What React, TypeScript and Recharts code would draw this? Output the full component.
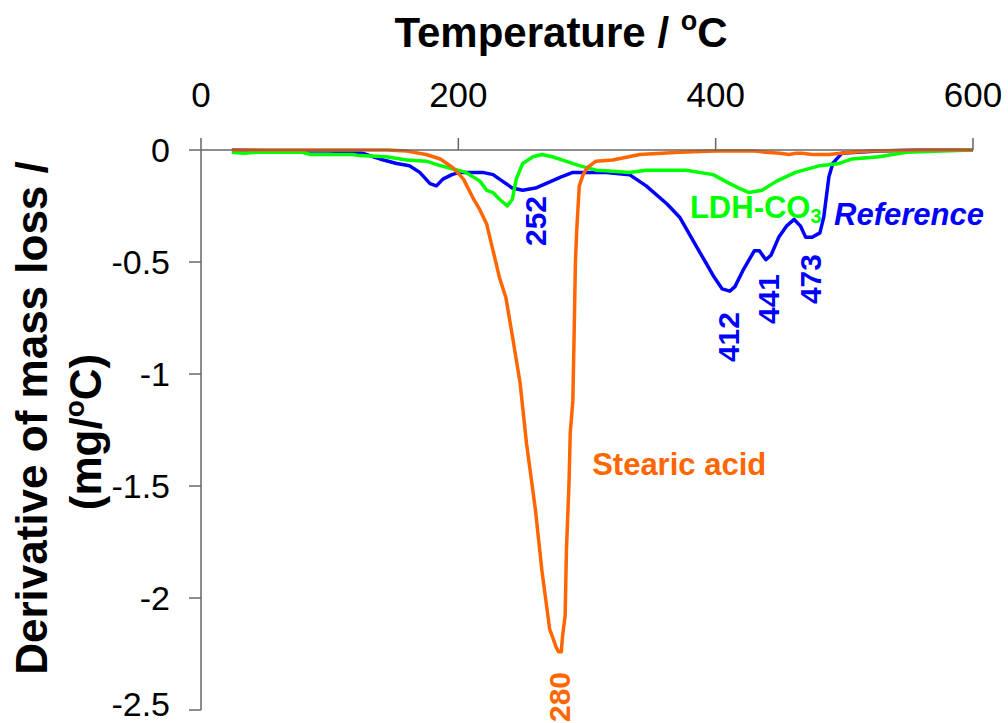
import { LineChart, Line, XAxis, YAxis, ReferenceDot } from "recharts";

// DTG curves, temperature (°C) vs derivative of mass loss (mg/°C)
const tempStearic = [24, 60, 100, 144, 160, 175, 186, 196, 204, 211, 217, 222, 227, 232, 237, 242, 248, 253, 260, 265, 271, 273, 276, 278, 280, 281, 283, 284, 286, 287, 289, 290, 291, 292, 294, 297, 300, 307, 320, 341, 372, 400, 430, 439, 450, 457, 462, 467, 475, 488, 497, 506, 520, 560, 600];
const dtgStearic = [0, 0, 0, 0, -0.005, -0.02, -0.04, -0.08, -0.13, -0.21, -0.27, -0.33, -0.45, -0.57, -0.66, -0.83, -1.04, -1.31, -1.61, -1.88, -2.14, -2.17, -2.22, -2.24, -2.24, -2.17, -2.08, -1.79, -1.49, -1.26, -1.12, -0.82, -0.5, -0.36, -0.16, -0.11, -0.08, -0.05, -0.045, -0.02, -0.01, -0.005, -0.005, -0.01, -0.015, -0.02, -0.015, -0.015, -0.02, -0.02, -0.015, -0.01, -0.005, 0, 0];

const tempReference = [24, 60, 100, 123, 139, 152, 162, 170, 178, 183, 188, 195, 201, 219, 227, 232, 242, 250, 260, 268, 280, 289, 315, 333, 346, 362, 372, 382, 393, 398, 405, 411, 415, 421, 430, 434, 439, 443, 449, 455, 461, 466, 470, 475, 481, 484, 486, 488, 491, 498, 510, 527, 560, 600];
const dtgReference = [0, -0.005, -0.005, -0.01, -0.04, -0.06, -0.07, -0.1, -0.15, -0.16, -0.13, -0.11, -0.1, -0.1, -0.11, -0.13, -0.17, -0.18, -0.17, -0.15, -0.12, -0.1, -0.1, -0.11, -0.16, -0.24, -0.3, -0.4, -0.51, -0.56, -0.62, -0.63, -0.61, -0.54, -0.45, -0.45, -0.49, -0.47, -0.39, -0.34, -0.31, -0.34, -0.39, -0.39, -0.37, -0.3, -0.21, -0.12, -0.06, -0.015, -0.01, -0.005, 0, 0];

const tempLdh = [24, 33, 44, 79, 85, 118, 123, 144, 160, 175, 186, 196, 206, 217, 222, 227, 232, 238, 242, 245, 250, 258, 265, 273, 281, 294, 307, 320, 333, 346, 360, 377, 398, 411, 418, 426, 436, 447, 462, 481, 496, 506, 527, 548, 576, 600];
const dtgLdh = [-0.01, -0.015, -0.01, -0.01, -0.02, -0.02, -0.025, -0.03, -0.045, -0.05, -0.07, -0.085, -0.1, -0.14, -0.18, -0.19, -0.22, -0.25, -0.22, -0.13, -0.06, -0.03, -0.02, -0.03, -0.045, -0.07, -0.09, -0.095, -0.1, -0.09, -0.09, -0.09, -0.11, -0.15, -0.17, -0.19, -0.18, -0.14, -0.1, -0.07, -0.06, -0.04, -0.03, -0.01, -0.005, 0];

const xTicks = [0, 200, 400, 600];
const yTicks = [0, -0.5, -1, -1.5, -2, -2.5];

// peak temperatures written vertically next to the minima
const peakLabels = [
  { text: "252", series: "reference", t: 260, v: -0.317 },
  { text: "412", series: "reference", t: 410, v: -0.835 },
  { text: "441", series: "reference", t: 441, v: -0.665 },
  { text: "473", series: "reference", t: 474, v: -0.576 },
  { text: "280", series: "stearic", t: 279, v: -2.442 },
];

// curve names
const curveNames = [
  { text: "Stearic acid", sub: "", series: "stearic", t: 304, v: -1.451 },
  { text: "LDH-CO", sub: "3", series: "ldh", t: 380, v: -0.304 },
  { text: "Reference", sub: "", series: "reference", t: 492, v: -0.335 },
];

const colors: Record<string, string> = {
  stearic: "#FF6600",
  reference: "#0000FF",
  ldh: "#00FF00",
};

const FONT = "'Liberation Sans', Arial, Helvetica, sans-serif";

const toPoints = (t: number[], v: number[]) => t.map((x, i) => ({ t: x, v: v[i] }));

function XTitle() {
  return (
    <text x={561} y={47} textAnchor="middle" fontFamily={FONT} fontWeight="bold" fontSize={42} fill="#000">
      Temperature /{" "}
      <tspan fontSize={27} dy={-17}>o</tspan>
      <tspan fontSize={42} dy={17}>C</tspan>
    </text>
  );
}

function YTitle() {
  return (
    <g fontFamily={FONT} fontWeight="bold" fontSize={44} fill="#000">
      <text x={47} y={418} transform="rotate(-90 47 418)" textAnchor="middle">
        Derivative of mass loss /
      </text>
      <text x={101} y={432} transform="rotate(-90 101 432)" textAnchor="middle">
        (mg/<tspan fontSize={28} dy={-17}>o</tspan>
        <tspan fontSize={44} dy={17}>C)</tspan>
      </text>
    </g>
  );
}

export default function App() {
  return (
    <div style={{ position: "absolute", left: 0, top: 0, width: 1008, height: 723, background: "#fff" }}>
      <LineChart width={1008} height={723} margin={{ top: 100, right: 35, bottom: 13, left: 0 }}>
        <XAxis
          type="number"
          dataKey="t"
          orientation="top"
          domain={[0, 600]}
          ticks={xTicks}
          height={50}
          stroke="#666"
          strokeWidth={1.5}
          tickSize={12}
          tickMargin={31}
          tick={{ fontSize: 35, fill: "#000", fontFamily: FONT }}
          label={{ content: XTitle }}
          allowDuplicatedCategory={false}
        />
        <YAxis
          type="number"
          dataKey="v"
          domain={[-2.5, 0]}
          ticks={yTicks}
          width={201}
          stroke="#666"
          strokeWidth={1.5}
          tickSize={12}
          tickMargin={19}
          tick={{ fontSize: 34, fill: "#000", fontFamily: FONT }}
          label={{ content: YTitle }}
        />
        <Line data={toPoints(tempReference, dtgReference)} dataKey="v" type="linear" stroke={colors.reference} strokeWidth={3.5} strokeLinejoin="round" dot={false} isAnimationActive={false} />
        <Line data={toPoints(tempLdh, dtgLdh)} dataKey="v" type="linear" stroke={colors.ldh} strokeWidth={3.5} strokeLinejoin="round" dot={false} isAnimationActive={false} />
        <Line data={toPoints(tempStearic, dtgStearic)} dataKey="v" type="linear" stroke={colors.stearic} strokeWidth={3.5} strokeLinejoin="round" dot={false} isAnimationActive={false} />
        {peakLabels.map((p) => (
          <ReferenceDot
            key={p.text}
            x={p.t}
            y={p.v}
            r={0}
            ifOverflow="visible"
            shape={(s: any) => (
              <text
                x={s.cx}
                y={s.cy}
                transform={`rotate(-90 ${s.cx} ${s.cy})`}
                textAnchor="middle"
                dominantBaseline="central"
                fontFamily={FONT}
                fontWeight="bold"
                fontSize={30}
                fill={colors[p.series]}
              >
                {p.text}
              </text>
            )}
          />
        ))}
        {curveNames.map((c) => (
          <ReferenceDot
            key={c.text}
            x={c.t}
            y={c.v}
            r={0}
            ifOverflow="visible"
            shape={(s: any) => (
              <text
                x={s.cx}
                y={s.cy}
                fontFamily={FONT}
                fontWeight="bold"
                fontStyle={c.series === "reference" ? "italic" : "normal"}
                fontSize={31}
                fill={colors[c.series]}
              >
                {c.text}
                {c.sub && (
                  <tspan fontSize={20} dy={5}>
                    {c.sub}
                  </tspan>
                )}
              </text>
            )}
          />
        ))}
      </LineChart>
    </div>
  );
}
